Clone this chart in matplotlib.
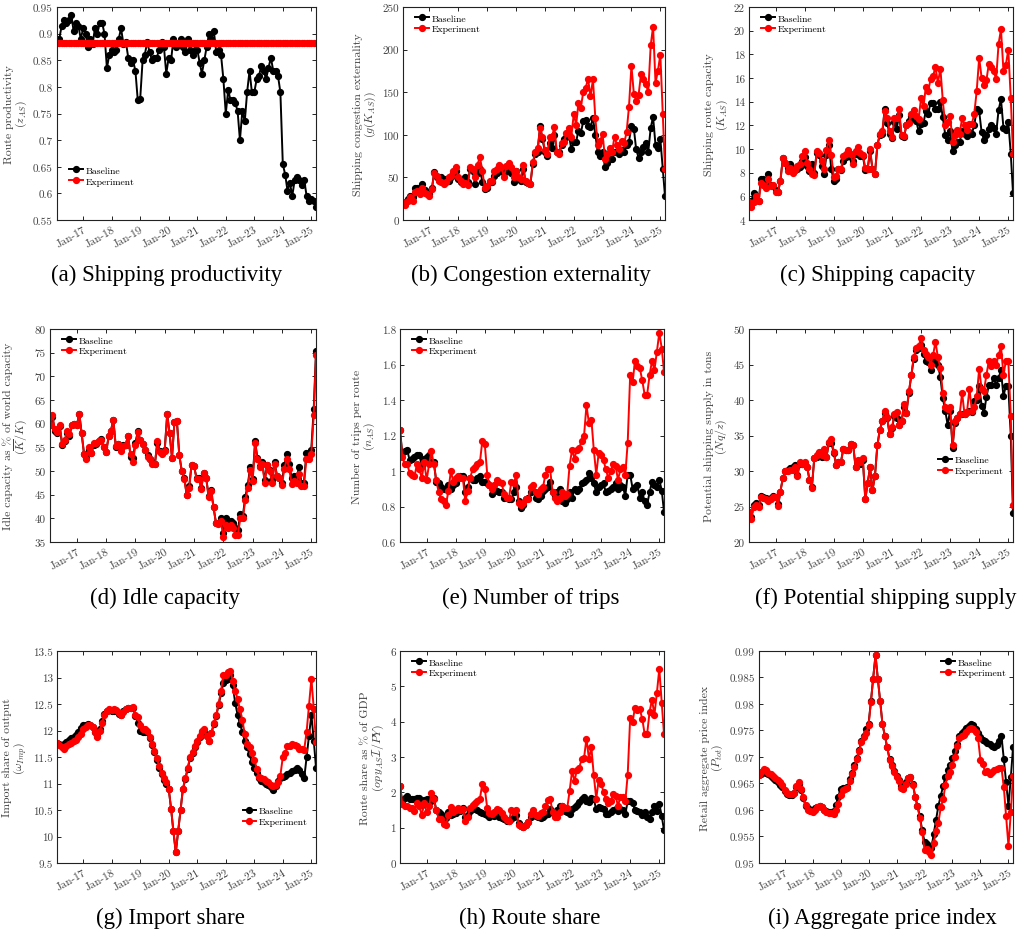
import matplotlib.pyplot as plt
import matplotlib.dates as mdates
import pandas as pd
from matplotlib.ticker import FuncFormatter, MultipleLocator

plt.rcParams['font.family'] = ['cmr10', 'DejaVu Serif']
plt.rcParams['mathtext.fontset'] = 'cm'
plt.rcParams['axes.formatter.use_mathtext'] = True

# monthly observations, Feb 2016 - Mar 2025
dates = pd.date_range('2016-02-01', periods=110, freq='MS')

# (a) shipping productivity
base_a = [0.885, 0.89, 0.915, 0.925, 0.92, 0.925, 0.935, 0.905, 0.92, 0.915, 0.89,
          0.91, 0.90, 0.875, 0.89, 0.88, 0.91, 0.90, 0.92, 0.92, 0.90, 0.835, 0.86,
          0.87, 0.865, 0.87, 0.89, 0.91, 0.88, 0.885, 0.855, 0.845, 0.85, 0.83, 0.775,
          0.777, 0.85, 0.86, 0.885, 0.865, 0.85, 0.855, 0.855, 0.87, 0.885, 0.875, 0.825,
          0.855, 0.85, 0.89, 0.875, 0.88, 0.89, 0.875, 0.865, 0.89, 0.87, 0.86, 0.87,
          0.87, 0.845, 0.825, 0.85, 0.875, 0.90, 0.89, 0.905, 0.865, 0.87, 0.86, 0.815,
          0.75, 0.795, 0.775, 0.775, 0.77, 0.755, 0.70, 0.755, 0.735, 0.79, 0.83, 0.79,
          0.79, 0.815, 0.82, 0.84, 0.83, 0.815, 0.835, 0.855, 0.83, 0.83, 0.82, 0.79,
          0.655, 0.635, 0.605, 0.62, 0.595, 0.625, 0.63, 0.625, 0.615, 0.625, 0.595, 0.585,
          0.59, 0.585, 0.575]
exp_a = [0.882] * 110

# (b) congestion externality
base_b = [21, 20, 25, 28, 27, 38, 38, 35, 42, 35, 32,
          30, 37, 56, 50, 47, 50, 46, 48, 46, 50, 55, 58,
          48, 45, 43, 50, 45, 60, 58, 42, 55, 60, 45, 36,
          38, 45, 45, 52, 55, 58, 60, 55, 58, 60, 55, 45,
          58, 48, 46, 60, 45, 44, 42, 66, 78, 80, 110, 95,
          80, 75, 90, 85, 100, 80, 80, 88, 95, 98, 100, 83,
          92, 92, 105, 102, 116, 117, 110, 109, 120, 100, 80, 75,
          80, 62, 67, 72, 72, 80, 80, 78, 82, 80, 88, 92,
          110, 107, 83, 73, 80, 86, 90, 80, 108, 121, 88, 85,
          95, 60, 28]
exp_b = [21, 18, 22, 27, 22, 33, 34, 30, 38, 32, 30,
         28, 36, 55, 52, 46, 45, 42, 45, 50, 52, 58, 62,
         50, 46, 42, 44, 41, 62, 60, 50, 65, 74, 58, 38,
         40, 46, 46, 57, 60, 64, 62, 50, 63, 67, 62, 50,
         58, 50, 48, 65, 46, 44, 42, 68, 80, 85, 108, 98,
         82, 78, 97, 98, 109, 80, 78, 90, 92, 102, 108, 98,
         124, 112, 137, 132, 150, 155, 166, 145, 165, 120, 88, 93,
         101, 72, 78, 85, 80, 98, 88, 83, 93, 90, 103, 133,
         181, 148, 140, 147, 171, 165, 160, 150, 205, 227, 161, 175,
         194, 124, 60]

# (c) shipping capacity
base_c = [5.5, 5.6, 6.3, 6.0, 5.6, 7.5, 7.5, 7.0, 7.9, 7.0, 6.9,
          6.5, 6.4, 7.3, 9.2, 8.8, 8.4, 8.7, 8.3, 8.2, 8.3, 8.5, 9.0,
          9.3, 8.6, 8.1, 8.7, 8.0, 9.7, 9.5, 8.6, 7.9, 9.5, 10.3, 8.3,
          7.3, 7.5, 8.3, 8.2, 9.0, 9.3, 9.7, 9.3, 9.0, 9.6, 9.7, 9.4,
          9.4, 8.2, 8.3, 9.8, 8.3, 7.9, 10.3, 11.2, 11.3, 13.4, 12.2, 11.3,
          10.9, 12.3, 11.7, 12.9, 11.1, 11.0, 12.0, 12.4, 12.8, 12.6, 12.4, 11.5,
          12.1, 12.2, 13.2, 13.0, 13.9, 13.9, 13.4, 13.4, 14.0, 12.7, 11.2, 10.8,
          11.5, 9.8, 10.3, 10.6, 10.6, 11.5, 11.3, 11.1, 11.4, 11.3, 12.0, 13.4,
          13.2, 11.4, 10.8, 11.2, 11.7, 12.0, 11.8, 11.3, 13.3, 14.2, 11.8, 11.6,
          12.3, 9.6, 6.3]
exp_c = [5.5, 5.1, 5.5, 6.0, 5.6, 7.1, 7.0, 6.7, 7.5, 6.9, 7.0,
         6.4, 6.4, 7.3, 9.2, 8.8, 8.1, 8.4, 8.0, 8.2, 8.6, 8.7, 9.4,
         9.8, 8.8, 8.3, 7.9, 7.8, 9.8, 9.7, 9.0, 8.3, 9.9, 10.8, 9.5,
         7.6, 7.7, 8.3, 8.3, 9.4, 9.6, 9.9, 9.6, 8.7, 9.8, 10.2, 9.7,
         9.5, 8.4, 8.3, 10.0, 8.3, 7.9, 10.3, 11.3, 11.5, 13.2, 12.6, 11.5,
         11.0, 12.6, 12.6, 13.4, 11.2, 11.1, 12.0, 12.2, 13.0, 13.3, 12.8, 12.5,
         14.3, 13.6, 15.2, 14.9, 15.9, 16.2, 16.9, 15.6, 16.8, 14.1, 12.0, 12.3,
         12.8, 10.6, 11.2, 11.6, 11.3, 12.6, 12.0, 11.6, 12.1, 12.1, 13.0, 14.9,
         17.7, 16.0, 15.4, 15.8, 17.2, 16.9, 16.6, 15.9, 18.9, 20.1, 16.6, 17.1,
         18.4, 14.3, 9.6]

# (d) idle capacity
base_d = [59.8, 61.5, 58.5, 58.0, 59.5, 55.5, 56.3, 58.0, 57.5, 59.8, 60.0,
          59.8, 62.0, 58.0, 53.5, 52.8, 54.5, 53.8, 55.5, 55.8, 56.3, 56.8, 55.0,
          54.0, 57.3, 58.5, 60.8, 55.0, 55.8, 54.8, 55.5, 55.5, 57.5, 53.0, 52.8,
          56.0, 58.5, 56.5, 55.8, 54.5, 53.3, 52.5, 51.8, 51.5, 56.0, 54.3, 53.8,
          54.5, 62.0, 58.0, 52.8, 60.3, 60.5, 53.3, 50.0, 48.5, 45.0, 46.8, 51.3,
          51.0, 48.5, 48.5, 46.5, 49.5, 48.5, 44.8, 46.0, 42.3, 39.0, 39.0, 40.0,
          37.0, 40.0, 39.5, 39.5, 39.0, 38.0, 37.5, 41.0, 40.5, 44.5, 47.0, 50.8,
          48.3, 56.3, 52.8, 51.0, 51.8, 48.0, 51.3, 50.3, 48.0, 51.8, 49.0, 48.5,
          47.5, 51.3, 53.5, 51.5, 48.5, 49.0, 48.5, 50.8, 47.5, 47.5, 53.8, 53.8,
          54.5, 63.2, 75.3]
exp_d = [59.8, 61.8, 58.8, 58.3, 59.8, 55.8, 56.5, 58.5, 57.8, 59.8, 60.0,
         59.8, 62.0, 58.0, 53.5, 52.5, 55.0, 53.8, 56.0, 56.0, 56.3, 56.5, 55.0,
         54.0, 57.3, 58.5, 60.8, 55.3, 55.8, 54.3, 55.3, 55.5, 57.5, 53.5, 51.8,
         55.5, 58.3, 56.5, 55.8, 54.5, 53.0, 52.5, 51.5, 51.5, 56.3, 54.0, 53.5,
         54.3, 62.0, 58.0, 52.8, 60.3, 60.5, 53.3, 50.0, 48.3, 45.0, 46.5, 51.3,
         51.0, 48.3, 48.3, 46.3, 49.5, 48.5, 44.5, 45.8, 42.3, 39.0, 38.8, 39.5,
         36.0, 38.5, 38.0, 38.5, 38.0, 36.5, 36.5, 40.0, 40.0, 43.8, 46.5, 50.3,
         47.8, 56.0, 52.5, 50.8, 51.5, 47.5, 51.3, 50.0, 47.5, 51.5, 49.0, 48.5,
         47.0, 50.5, 52.5, 50.5, 47.3, 47.8, 47.5, 49.3, 46.8, 46.8, 52.5, 52.5,
         53.5, 61.8, 74.5]

# (e) number of trips
base_e = [1.23, 1.10, 1.11, 1.12, 1.06, 1.07, 1.08, 1.09, 1.09, 1.03, 1.07,
          1.08, 1.09, 1.05, 1.05, 0.94, 0.93, 0.91, 0.90, 0.90, 0.92, 0.90, 0.92,
          0.93, 0.96, 0.97, 0.97, 0.88, 0.91, 0.96, 0.95, 0.95, 0.96, 0.97, 0.94,
          0.94, 0.93, 0.92, 0.87, 0.90, 0.89, 0.88, 0.88, 0.85, 0.85, 0.84, 0.84,
          0.88, 0.91, 0.83, 0.79, 0.81, 0.84, 0.85, 0.88, 0.89, 0.85, 0.84, 0.86,
          0.89, 0.90, 0.91, 0.94, 0.88, 0.86, 0.88, 0.90, 0.83, 0.82, 0.84, 0.88,
          0.85, 0.90, 0.89, 0.90, 0.93, 0.94, 0.95, 0.99, 0.96, 0.93, 0.88, 0.91,
          0.92, 0.93, 0.88, 0.89, 0.90, 0.91, 0.93, 0.90, 0.92, 0.91, 0.86, 0.98,
          0.98, 0.90, 0.91, 0.92, 0.85, 0.88, 0.83, 0.81, 0.88, 0.94, 0.92, 0.91,
          0.95, 0.89, 0.77]
exp_e = [1.23, 1.08, 1.04, 1.04, 0.99, 0.98, 0.97, 1.04, 1.01, 0.96, 1.05,
         0.95, 1.04, 1.11, 1.04, 0.95, 0.88, 0.84, 0.83, 0.81, 0.89, 1.00, 0.94,
         0.96, 0.97, 0.96, 0.96, 0.83, 0.89, 0.96, 1.01, 1.02, 1.04, 1.05, 1.17,
         1.15, 0.98, 0.92, 0.90, 0.92, 0.95, 0.94, 0.93, 0.87, 0.85, 0.85, 0.94,
         0.93, 0.98, 0.82, 0.81, 0.82, 0.84, 0.84, 0.91, 0.92, 0.88, 0.87, 0.90,
         0.91, 0.98, 1.01, 1.01, 0.88, 0.85, 0.83, 0.85, 0.88, 0.86, 0.87, 1.03,
         1.12, 1.07, 1.12, 1.13, 1.17, 1.20, 1.37, 1.27, 1.29, 1.12, 0.98, 1.10,
         1.09, 1.06, 1.01, 0.96, 1.00, 1.04, 1.03, 0.95, 1.01, 1.02, 0.98, 1.16,
         1.54, 1.50, 1.62, 1.59, 1.58, 1.51, 1.43, 1.43, 1.54, 1.62, 1.57, 1.67,
         1.78, 1.69, 1.56]

# (f) potential shipping supply
base_f = [24.2, 23.5, 25.2, 25.5, 25.2, 26.5, 26.3, 26.2, 26.0, 26.2, 26.5,
          26.3, 25.3, 27.1, 29.0, 30.0, 30.1, 30.4, 30.5, 30.8, 29.5, 31.0, 31.0,
          31.0, 30.5, 28.8, 27.8, 31.8, 32.0, 32.5, 32.0, 32.8, 32.0, 34.0, 34.0,
          32.5, 30.8, 31.2, 31.3, 33.1, 33.0, 33.0, 33.8, 33.7, 30.6, 31.2, 31.0,
          31.5, 26.0, 28.3, 30.5, 27.3, 29.3, 33.6, 35.8, 37.0, 38.2, 37.5, 35.2,
          36.0, 37.8, 37.5, 36.5, 37.0, 39.0, 38.2, 41.0, 43.5, 45.8, 47.0, 47.3,
          47.8, 46.5, 45.5, 45.3, 44.2, 45.8, 45.5, 45.0, 43.2, 40.3, 38.5, 36.5,
          38.5, 33.3, 36.8, 37.5, 38.0, 38.0, 38.0, 38.3, 38.5, 38.3, 39.8, 40.0,
          42.0, 39.2, 38.1, 40.4, 42.1, 42.1, 43.1, 42.1, 43.1, 44.2, 40.5, 42.0,
          42.0, 35.0, 24.1]
exp_f = [24.2, 23.3, 25.0, 25.2, 25.0, 26.3, 26.2, 26.0, 25.8, 26.0, 26.3,
         26.3, 25.1, 27.1, 29.0, 30.0, 30.0, 30.2, 30.2, 30.5, 29.3, 31.2, 31.0,
         31.3, 30.5, 28.8, 27.6, 31.8, 32.2, 32.7, 32.3, 33.1, 32.0, 34.1, 34.5,
         32.7, 30.8, 31.2, 31.3, 33.1, 33.0, 33.0, 33.8, 33.7, 30.6, 31.5, 31.2,
         31.8, 26.0, 28.3, 30.5, 27.3, 29.3, 33.6, 35.8, 37.0, 38.4, 37.6, 35.2,
         36.2, 38.0, 38.3, 36.5, 37.0, 39.5, 38.2, 41.2, 43.5, 46.0, 47.3, 47.6,
         48.7, 47.0, 46.5, 46.0, 45.0, 46.3, 48.2, 46.0, 44.5, 41.0, 39.0, 38.8,
         39.0, 33.6, 37.0, 37.5, 38.0, 41.0, 38.0, 38.3, 41.6, 38.5, 39.0, 40.5,
         44.4, 41.5, 41.3, 43.5, 45.5, 44.8, 45.5, 45.0, 46.3, 47.6, 43.5, 45.5,
         45.5, 37.8, 25.2]

# (g) import share
base_g = [11.77, 11.74, 11.72, 11.74, 11.78, 11.82, 11.85, 11.88, 11.92, 11.97, 12.05,
          12.10, 12.11, 12.12, 12.11, 12.07, 11.97, 11.90, 12.02, 12.18, 12.32, 12.37, 12.38,
          12.36, 12.37, 12.36, 12.32, 12.30, 12.36, 12.40, 12.42, 12.43, 12.43, 12.28, 12.15,
          12.00, 11.98, 11.98, 11.98, 11.85, 11.73, 11.60, 11.45, 11.30, 11.17, 11.07, 11.00,
          10.90, 10.52, 10.10, 9.70, 10.10, 10.50, 10.90, 11.08, 11.28, 11.48, 11.58, 11.68,
          11.78, 11.88, 11.98, 12.00, 11.90, 11.80, 11.95, 12.12, 12.28, 12.48, 12.70, 12.90,
          12.95, 12.97, 13.05, 12.85, 12.52, 12.30, 12.12, 11.98, 11.80, 11.68, 11.55, 11.40,
          11.30, 11.20, 11.10, 11.05, 11.02, 11.00, 10.97, 10.93, 10.88, 10.95, 11.05, 11.10,
          11.12, 11.15, 11.18, 11.20, 11.23, 11.26, 11.30, 11.25, 11.18, 11.10, 11.50, 11.90,
          12.30, 11.80, 11.30]
exp_g = [11.77, 11.72, 11.68, 11.66, 11.70, 11.74, 11.76, 11.80, 11.83, 11.87, 11.93,
         12.02, 12.07, 12.10, 12.10, 12.07, 11.97, 11.88, 12.00, 12.15, 12.30, 12.37, 12.40,
         12.38, 12.40, 12.38, 12.33, 12.30, 12.35, 12.40, 12.42, 12.43, 12.44, 12.30, 12.25,
         12.10, 12.03, 12.02, 12.00, 11.87, 11.75, 11.62, 11.48, 11.33, 11.19, 11.10, 11.02,
         10.90, 10.52, 10.10, 9.70, 10.10, 10.50, 10.90, 11.10, 11.30, 11.50, 11.60, 11.70,
         11.80, 11.90, 12.00, 12.02, 11.90, 11.80, 11.95, 12.15, 12.30, 12.50, 12.75, 13.05,
         13.05, 13.10, 13.13, 12.93, 12.75, 12.60, 12.40, 12.20, 11.93, 11.75, 11.68, 11.58,
         11.45, 11.28, 11.13, 11.10, 11.08, 11.05, 11.03, 10.98, 10.96, 10.98, 11.03, 11.15,
         11.50, 11.58, 11.70, 11.70, 11.75, 11.72, 11.70, 11.65, 11.65, 11.64, 11.98, 12.47,
         12.98, 12.40, 11.78]

# (h) route share
base_h = [2.18, 1.72, 1.85, 1.90, 1.80, 1.82, 1.80, 1.85, 1.85, 1.65, 1.78,
          1.80, 1.82, 1.75, 1.85, 1.50, 1.45, 1.38, 1.30, 1.28, 1.45, 1.35, 1.38,
          1.42, 1.48, 1.48, 1.55, 1.30, 1.35, 1.48, 1.52, 1.52, 1.50, 1.45, 1.42,
          1.40, 1.35, 1.30, 1.35, 1.32, 1.38, 1.30, 1.28, 1.25, 1.20, 1.18, 1.25,
          1.30, 1.35, 1.12, 1.05, 1.02, 1.08, 1.15, 1.30, 1.38, 1.32, 1.30, 1.28,
          1.30, 1.35, 1.40, 1.52, 1.45, 1.40, 1.50, 1.62, 1.60, 1.48, 1.45, 1.40,
          1.52, 1.58, 1.65, 1.72, 1.80, 1.88, 1.75, 1.72, 1.85, 1.80, 1.52, 1.58,
          1.55, 1.52, 1.38, 1.40, 1.45, 1.50, 1.52, 1.48, 1.52, 1.50, 1.38, 1.75,
          1.75, 1.70, 1.50, 1.48, 1.45, 1.35, 1.45, 1.30, 1.25, 1.45, 1.62, 1.48,
          1.68, 1.32, 0.93]
exp_h = [2.18, 1.68, 1.62, 1.60, 1.55, 1.55, 1.48, 1.70, 1.60, 1.35, 1.70,
         1.45, 1.60, 1.97, 1.82, 1.50, 1.25, 1.25, 1.10, 1.08, 1.35, 1.58, 1.45,
         1.50, 1.55, 1.50, 1.52, 1.18, 1.30, 1.55, 1.65, 1.70, 1.75, 1.82, 2.25,
         2.10, 1.55, 1.42, 1.38, 1.45, 1.52, 1.50, 1.42, 1.30, 1.22, 1.20, 1.50,
         1.45, 1.50, 1.07, 1.05, 1.02, 1.08, 1.15, 1.40, 1.50, 1.35, 1.32, 1.42,
         1.45, 1.62, 1.78, 1.82, 1.45, 1.30, 1.30, 1.45, 1.60, 1.55, 1.55, 2.03,
         2.60, 2.32, 2.62, 2.70, 2.93, 2.98, 3.52, 2.95, 3.27, 2.48, 1.82, 2.35,
         2.25, 2.00, 1.80, 1.70, 1.75, 1.95, 1.90, 1.62, 1.88, 1.88, 1.75, 2.50,
         4.10, 4.00, 4.40, 4.32, 4.35, 4.08, 3.65, 3.65, 4.28, 4.62, 4.20, 4.80,
         5.50, 4.52, 3.65]

# (i) aggregate price index
base_i = [0.9666, 0.9668, 0.9672, 0.9670, 0.9667, 0.9664, 0.9660, 0.9656, 0.9652, 0.9648, 0.9644,
          0.9636, 0.9630, 0.9628, 0.9628, 0.9632, 0.9643, 0.9650, 0.9638, 0.9622, 0.9608, 0.9603, 0.9600,
          0.9600, 0.9603, 0.9606, 0.9608, 0.9605, 0.9600, 0.9598, 0.9597, 0.9597, 0.9598, 0.9610, 0.9625,
          0.9640, 0.9642, 0.9642, 0.9643, 0.9658, 0.9670, 0.9684, 0.9698, 0.9714, 0.9730, 0.9740, 0.9752,
          0.9762, 0.9805, 0.9848, 0.9892, 0.9848, 0.9805, 0.9762, 0.9740, 0.9718, 0.9697, 0.9685, 0.9673,
          0.9665, 0.9657, 0.9645, 0.9642, 0.9652, 0.9660, 0.9663, 0.9650, 0.9625, 0.9608, 0.9588, 0.9562,
          0.9540, 0.9535, 0.9530, 0.9528, 0.9555, 0.9582, 0.9608, 0.9627, 0.9645, 0.9662, 0.9675, 0.9685,
          0.9698, 0.9712, 0.9725, 0.9740, 0.9745, 0.9750, 0.9755, 0.9758, 0.9762, 0.9760, 0.9752, 0.9745,
          0.9738, 0.9733, 0.9730, 0.9727, 0.9724, 0.9721, 0.9718, 0.9722, 0.9730, 0.9740, 0.9696, 0.9652,
          0.9608, 0.9662, 0.9718]
exp_i = [0.9666, 0.9672, 0.9677, 0.9675, 0.9670, 0.9667, 0.9664, 0.9660, 0.9656, 0.9652, 0.9648,
         0.9638, 0.9633, 0.9630, 0.9630, 0.9633, 0.9645, 0.9653, 0.9640, 0.9625, 0.9610, 0.9600, 0.9598,
         0.9597, 0.9600, 0.9605, 0.9608, 0.9606, 0.9600, 0.9596, 0.9594, 0.9594, 0.9593, 0.9600, 0.9612,
         0.9628, 0.9638, 0.9640, 0.9641, 0.9655, 0.9668, 0.9682, 0.9697, 0.9712, 0.9728, 0.9738, 0.9745,
         0.9760, 0.9803, 0.9848, 0.9892, 0.9848, 0.9805, 0.9762, 0.9740, 0.9718, 0.9695, 0.9683, 0.9672,
         0.9663, 0.9655, 0.9642, 0.9640, 0.9650, 0.9660, 0.9663, 0.9648, 0.9625, 0.9607, 0.9585, 0.9558,
         0.9525, 0.9527, 0.9520, 0.9516, 0.9538, 0.9560, 0.9576, 0.9605, 0.9620, 0.9648, 0.9665, 0.9672,
         0.9685, 0.9700, 0.9720, 0.9735, 0.9740, 0.9742, 0.9748, 0.9752, 0.9755, 0.9752, 0.9748, 0.9735,
         0.9695, 0.9687, 0.9672, 0.9673, 0.9668, 0.9672, 0.9675, 0.9678, 0.9680, 0.9680, 0.9643, 0.9588,
         0.9532, 0.9597, 0.9665]

W, H = 1026, 937

# base, exp, ylabel, (ymin, ymax, step), caption, axes box in px (x0, y0, x1, y1),
# caption centre in px, legend (loc, anchor)
panels = [
    (base_a, exp_a, 'Route productivity\n$(z_{AS})$', (0.55, 0.95, 0.05),
     '(a) Shipping productivity', (57, 8, 316, 221), (167, 275), ('lower left', (0.02, 0.13))),
    (base_b, exp_b, 'Shipping congestion externality\n$(g(K_{AS}))$', (0, 250, 50),
     '(b) Congestion externality', (403, 8, 665, 221), (531, 275), ('upper left', (0.02, 1.0))),
    (base_c, exp_c, 'Shipping route capacity\n$(K_{AS})$', (4, 22, 2),
     '(c) Shipping capacity', (749, 8, 1013, 221), (878, 275), ('upper left', (0.02, 1.0))),
    (base_d, exp_d, 'Idle capacity as % of world capacity\n$(\\overline{K}/K)$', (35, 80, 5),
     '(d) Idle capacity', (50, 330, 316, 543), (165, 598), ('upper left', (0.02, 1.0))),
    (base_e, exp_e, 'Number of trips per route\n$(n_{AS})$', (0.6, 1.8, 0.2),
     '(e) Number of trips', (400, 330, 664, 543), (531, 598), ('upper left', (0.02, 1.0))),
    (base_f, exp_f, 'Potential shipping supply in tons\n$(Nq/z)$', (20, 50, 5),
     '(f) Potential shipping supply', (749, 330, 1013, 543), (886, 598), ('center left', (0.69, 0.36))),
    (base_g, exp_g, 'Import share of output\n$(\\omega_{Imp})$', (9.5, 13.5, 0.5),
     '(g) Import share', (57, 652, 316, 864), (170, 918), ('center left', (0.69, 0.22))),
    (base_h, exp_h, 'Route share as % of GDP\n$(op\\,y_{AS}\\mathcal{I}/PY)$', (0, 6, 1),
     '(h) Route share', (400, 652, 664, 864), (530, 918), ('upper left', (0.02, 1.0))),
    (base_i, exp_i, 'Retail aggregate price index\n$(P_{tot})$', (0.95, 0.99, 0.005),
     '(i) Aggregate price index', (759, 652, 1013, 864), (882, 918), ('upper left', (0.69, 1.0))),
]

fig = plt.figure(figsize=(W / 100, H / 100), dpi=100)
grey = '#404040'

for base, exp, ylabel, (ymin, ymax, step), caption, box, cpos, (loc, anchor) in panels:
    x0, y0, x1, y1 = box
    ax = fig.add_axes([x0 / W, 1 - y1 / H, (x1 - x0) / W, (y1 - y0) / H])
    ax.plot(dates, base, '-o', color='k', lw=1.4, ms=4.2, label='Baseline')
    ax.plot(dates, exp, '-o', color='#ff0000', lw=1.4, ms=4.2, label='Experiment')
    ax.set_xlim(dates[0], dates[-1])
    ax.set_ylim(ymin, ymax)
    ax.yaxis.set_major_locator(MultipleLocator(step))
    ax.yaxis.set_major_formatter(FuncFormatter(lambda v, p: '%g' % round(v, 4)))
    ax.xaxis.set_major_locator(mdates.YearLocator(1, month=1, day=1))
    ax.xaxis.set_major_formatter(mdates.DateFormatter('%b-%y'))
    ax.tick_params(direction='in', top=True, right=True, length=3, width=0.6,
                   labelsize=8, labelcolor=grey, pad=3)
    for lab in ax.get_xticklabels():
        lab.set_rotation(30)
        lab.set_ha('right')
        lab.set_rotation_mode('anchor')
    for s in ax.spines.values():
        s.set_linewidth(0.8)
        s.set_color('#222222')
    ax.set_ylabel(ylabel, fontsize=8.5, color=grey, linespacing=1.0, labelpad=3)
    ax.legend(loc=loc, bbox_to_anchor=anchor, frameon=False, fontsize=7,
              handlelength=1.4, handletextpad=0.3, labelspacing=0.2, borderaxespad=0.3)
    fig.text(cpos[0] / W, 1 - cpos[1] / H, caption, ha='center', va='center',
             fontsize=16.5, family=['Liberation Serif', 'DejaVu Serif'])

fig.savefig('out.png', dpi=100)
